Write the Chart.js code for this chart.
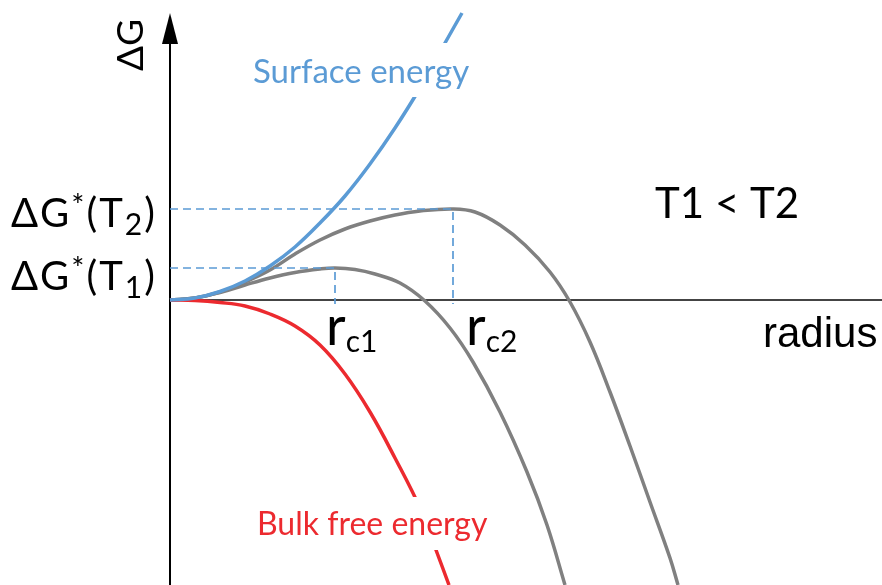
<!DOCTYPE html>
<html>
<head>
<meta charset="utf-8">
<script src="https://cdn.jsdelivr.net/npm/chart.js@4"></script>
<style>
  body { margin: 0; background: #fff; }
  #wrap { width: 882px; height: 585px; }
</style>
</head>
<body>
<div id="wrap"><canvas id="chart" width="882" height="585"></canvas></div>
<script>
// Radius samples and ΔG values (arbitrary units, origin at 0,0)
const surfaceR = [0, 25, 50, 75, 100, 125, 150, 175, 200, 225, 250, 275, 292];
const surfaceG = [0, 2, 8.5, 19, 34, 53, 77, 104, 136, 172, 212, 257, 287];

const bulkR = [0, 25, 50, 75, 100, 125, 150, 175, 200, 225, 250, 266, 279];
const bulkG = [0, -0.5, -2.5, -6, -14, -26, -45, -74, -112, -158, -208, -250, -285];

const t1R = [0, 25, 50, 75, 100, 125, 150, 165, 185, 205, 230, 255, 280, 303, 330, 357, 377, 395];
const t1G = [0, 2, 7.5, 15, 22, 27.5, 31, 32, 30.5, 26, 17, -1, -28, -62, -112, -172, -225, -285];

const t2R = [0, 25, 50, 75, 100, 125, 150, 175, 200, 225, 250, 283, 305, 330, 355, 380, 400, 420, 440, 460, 480, 500, 508];
const t2G = [0, 2, 8, 18, 30, 46, 60, 71, 79, 85, 89, 91, 88, 75, 55, 28, -2, -42, -92, -146, -202, -258, -285];

// critical radii and barrier heights
const rc = [165, 283];
const gStar = [32, 91];

const BLUE = '#5b9bd5';
const RED = '#ec2a2f';
const GRAY = '#808080';

function pts(xs, ys) {
  return xs.map((x, i) => ({ x: x, y: ys[i] }));
}

function dashed(r, g) {
  return [{ x: 0, y: g }, { x: r, y: g }, { x: r, y: -4 }];
}

const lineBase = { borderWidth: 3.5, pointRadius: 0, fill: false, tension: 0.4 };
const dashBase = { borderColor: BLUE, borderWidth: 1.7, borderDash: [8, 5], pointRadius: 0, fill: false, tension: 0 };

// draws a run of [text, size, dy] pieces from a left baseline
function drawRun(ctx, x, y, parts, family, color, spacing) {
  ctx.fillStyle = color;
  ctx.textBaseline = 'alphabetic';
  ctx.textAlign = 'left';
  ctx.letterSpacing = (spacing || 0) + 'px';
  parts.forEach(([t, size, dy]) => {
    ctx.font = size + 'px ' + family;
    ctx.fillText(t, x, y + dy);
    x += ctx.measureText(t).width;
  });
  ctx.letterSpacing = '0px';
}

const annotations = {
  id: 'annotations',
  beforeDatasetsDraw(chart) {
    const ctx = chart.ctx;
    const x0 = chart.scales.x.getPixelForValue(0);
    const y0 = chart.scales.y.getPixelForValue(0);
    ctx.save();
    // x axis
    ctx.strokeStyle = '#444';
    ctx.lineWidth = 2;
    ctx.beginPath();
    ctx.moveTo(x0, y0);
    ctx.lineTo(chart.width, y0);
    ctx.stroke();
    // y axis with arrow head
    ctx.strokeStyle = '#000';
    ctx.beginPath();
    ctx.moveTo(x0, chart.height);
    ctx.lineTo(x0, 40);
    ctx.stroke();
    ctx.fillStyle = '#000';
    ctx.beginPath();
    ctx.moveTo(x0, 13);
    ctx.lineTo(x0 - 8, 44);
    ctx.lineTo(x0 + 8, 44);
    ctx.closePath();
    ctx.fill();
    ctx.restore();
  },
  afterDatasetsDraw(chart) {
    const ctx = chart.ctx;
    const F = 'Lato, "Open Sans", sans-serif';
    ctx.save();
    // white boxes that cut the curves behind the labels
    ctx.fillStyle = '#fff';
    ctx.fillRect(248, 43, 228, 54);
    ctx.fillRect(252, 497, 242, 53);

    drawRun(ctx, 253, 83, [['Surface energy', 33, 0]], F, BLUE);
    drawRun(ctx, 257, 535, [['Bulk free energy', 32, 0]], F, RED);

    drawRun(ctx, 11, 227, [['ΔG', 40, 0], ['*', 31, -11], ['(T', 40, 0], ['2', 30, 8], [')', 40, 0]], F, '#000', 2);
    drawRun(ctx, 11, 290, [['ΔG', 40, 0], ['*', 31, -11], ['(T', 40, 0], ['1', 30, 8], [')', 40, 0]], F, '#000', 2);

    drawRun(ctx, 655, 218, [['T1 < T2', 42, 0]], F, '#000');
    drawRun(ctx, 763, 347, [['radius', 42, 0]], '"Liberation Sans", Arial, sans-serif', '#000');

    drawRun(ctx, 326, 345, [['r', 54, 0], ['c1', 30, 7]], F, '#000');
    drawRun(ctx, 466, 345, [['r', 54, 0], ['c2', 30, 7]], F, '#000');

    // rotated axis title
    ctx.translate(143, 45);
    ctx.rotate(-Math.PI / 2);
    ctx.font = '37px ' + F;
    ctx.fillStyle = '#000';
    ctx.textAlign = 'center';
    ctx.textBaseline = 'alphabetic';
    ctx.fillText('ΔG', 0, 0);
    ctx.restore();
  }
};

new Chart(document.getElementById('chart').getContext('2d'), {
  type: 'line',
  data: {
    datasets: [
      Object.assign({ data: dashed(rc[1], gStar[1]) }, dashBase),
      Object.assign({ data: dashed(rc[0], gStar[0]) }, dashBase),
      Object.assign({ label: 'Surface energy', data: pts(surfaceR, surfaceG), borderColor: BLUE }, lineBase),
      Object.assign({ label: 'Bulk free energy', data: pts(bulkR, bulkG), borderColor: RED }, lineBase),
      Object.assign({ label: 'ΔG(T1)', data: pts(t1R, t1G), borderColor: GRAY }, lineBase),
      Object.assign({ label: 'ΔG(T2)', data: pts(t2R, t2G), borderColor: GRAY }, lineBase),
    ],
  },
  options: {
    responsive: false,
    animation: false,
    layout: { padding: 0 },
    plugins: { legend: { display: false }, tooltip: { enabled: false } },
    scales: {
      x: { type: 'linear', min: -170, max: 712, display: false },
      y: { type: 'linear', min: -285, max: 300, display: false },
    },
  },
  plugins: [annotations],
});
</script>
</body>
</html>
